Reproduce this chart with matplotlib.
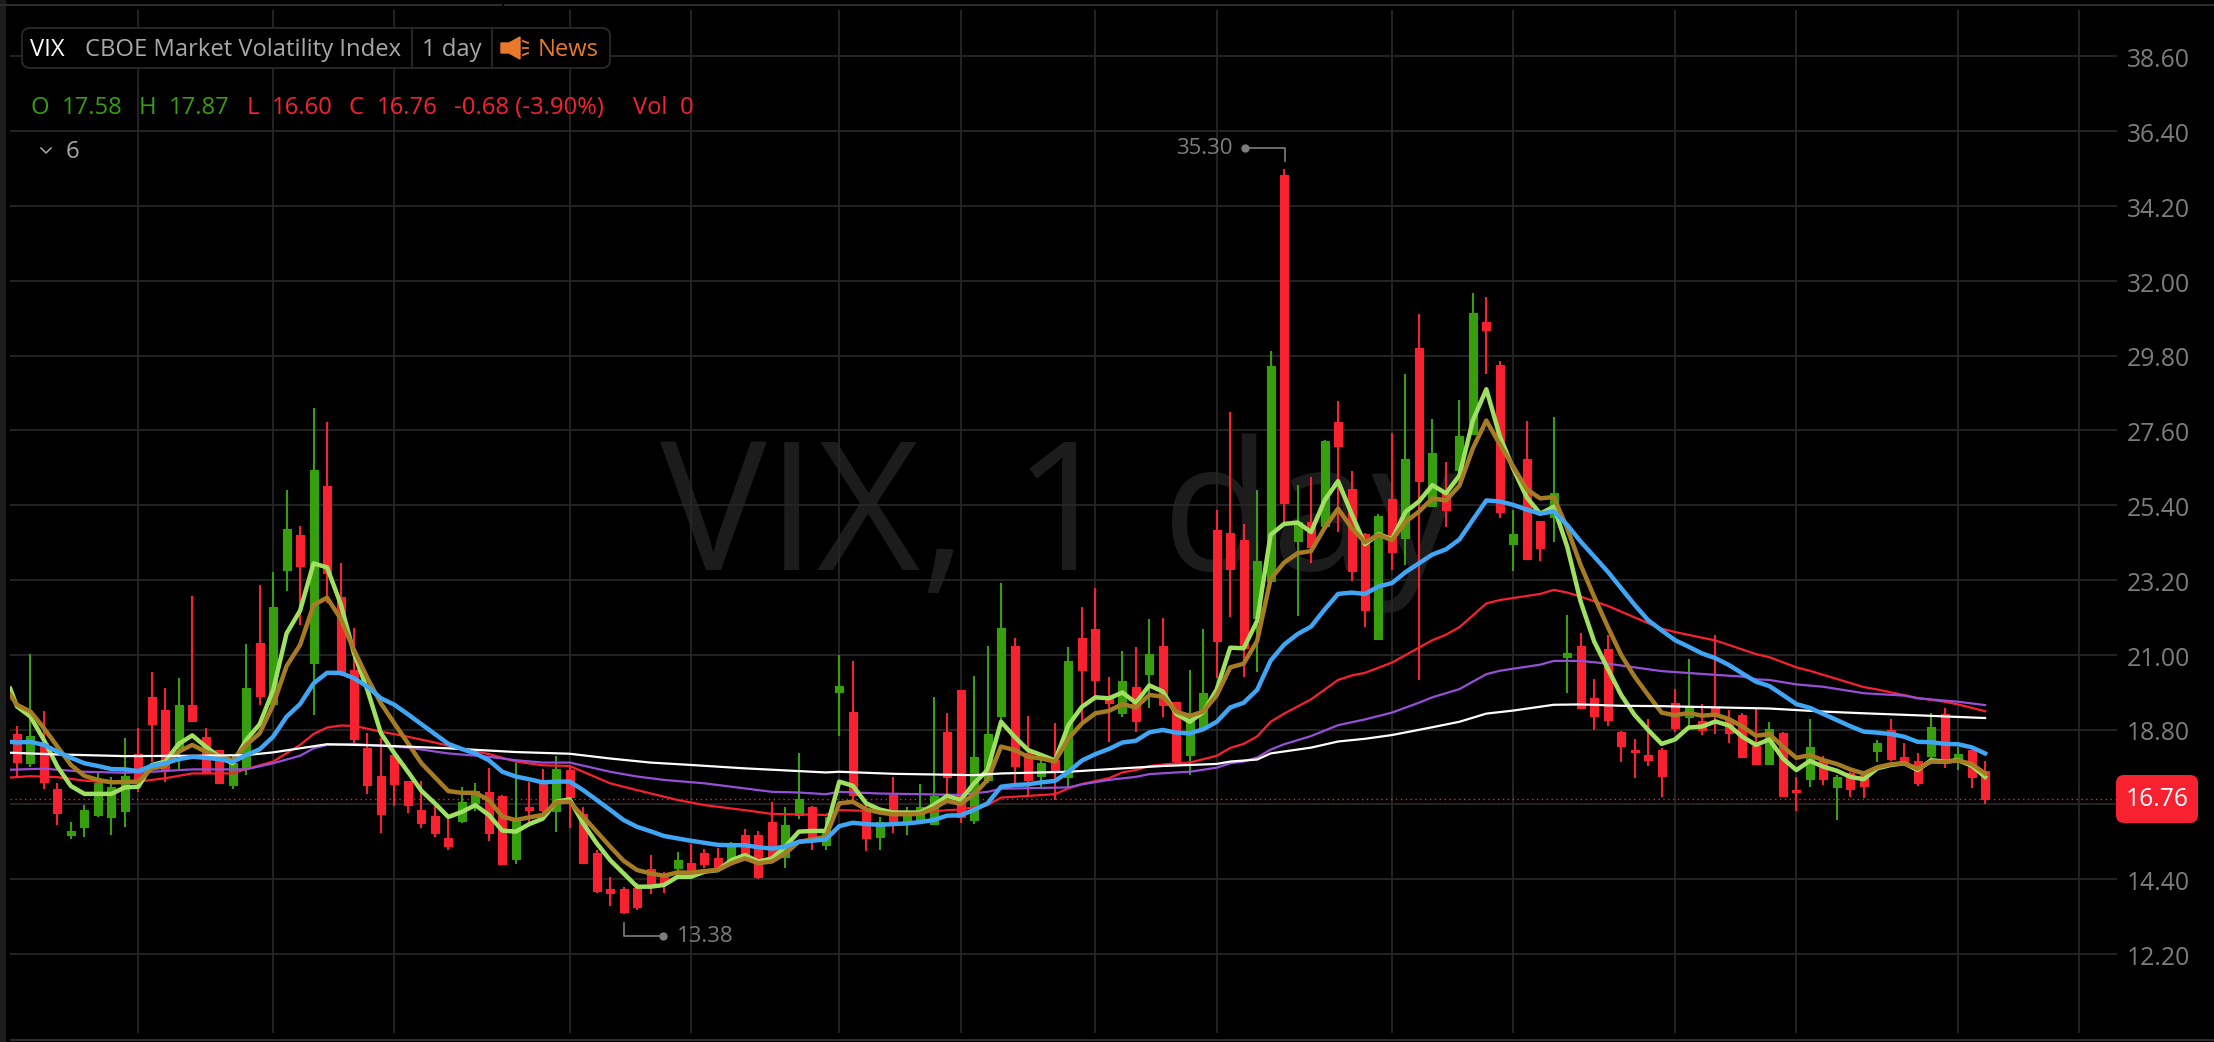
import matplotlib
matplotlib.use('Agg')
import matplotlib.pyplot as plt
from matplotlib.patches import FancyBboxPatch, Polygon
from matplotlib.transforms import ScaledTranslation

plt.rcParams['font.family'] = ['Open Sans', 'DejaVu Sans']

# Daily candles
opens = [18.67, 17.81, 18.40, 17.04, 15.71, 15.93, 16.30, 16.24, 16.40, 18.08,
         19.75, 19.38, 18.30, 19.53, 18.59, 18.20, 17.18, 17.66, 21.34, 19.55,
         23.49, 24.52, 20.75, 25.97, 22.69, 20.55, 18.27, 17.43, 18.06, 17.30,
         16.45, 16.25, 15.60, 16.12, 16.63, 16.96, 16.86, 14.98, 16.51, 17.26,
         16.42, 17.62, 16.32, 15.18, 14.10, 14.12, 14.13, 14.69, 14.47, 14.72,
         14.87, 15.16, 15.01, 14.92, 15.70, 15.70, 16.08, 15.06, 16.29, 16.53,
         15.41, 19.90, 19.32, 16.39, 15.65, 16.88, 16.09, 16.14, 16.01, 18.73,
         19.97, 16.14, 17.32, 19.21, 21.25, 18.10, 17.43, 17.90, 17.42, 21.49,
         21.75, 19.79, 19.30, 20.05, 20.43, 21.25, 19.61, 18.04, 18.89, 24.67,
         24.57, 24.39, 22.09, 23.17, 35.11, 24.34, 24.91, 24.80, 27.85, 25.87,
         24.55, 21.47, 25.59, 24.43, 30.02, 25.39, 25.75, 26.45, 27.49, 30.78,
         29.51, 24.26, 26.77, 24.93, 25.05, 20.95, 21.26, 19.72, 21.18, 18.74,
         18.19, 18.05, 18.19, 19.59, 19.16, 19.04, 19.44, 19.08, 19.23, 18.32,
         17.79, 18.70, 17.02, 17.35, 17.93, 17.11, 17.51, 17.46, 18.18, 18.78,
         18.00, 17.88, 18.03, 19.27, 17.95, 18.19, 17.58]
closes = [17.85, 18.61, 17.27, 16.34, 15.81, 16.43, 17.22, 17.12, 17.45, 17.22,
          18.96, 17.60, 19.51, 19.04, 17.56, 17.24, 17.81, 20.01, 19.80, 22.40,
          24.70, 23.62, 26.43, 23.40, 20.50, 18.52, 17.16, 16.33, 17.20, 16.57,
          16.04, 15.76, 15.39, 16.67, 17.00, 15.75, 14.84, 16.14, 16.45, 16.44,
          17.64, 16.83, 14.89, 14.04, 13.98, 13.45, 13.57, 14.18, 14.28, 14.96,
          14.62, 14.85, 14.72, 15.46, 15.14, 14.46, 15.08, 15.99, 16.76, 15.55,
          15.85, 20.09, 16.88, 15.62, 16.09, 16.11, 16.39, 16.53, 16.86, 17.42,
          16.24, 18.00, 18.66, 21.78, 17.73, 17.32, 17.81, 17.61, 20.83, 20.55,
          20.26, 19.59, 20.24, 19.05, 21.02, 19.51, 17.89, 19.28, 19.87, 21.40,
          23.52, 21.19, 23.76, 29.50, 25.46, 24.91, 24.17, 27.29, 27.14, 23.47,
          22.33, 25.09, 24.02, 26.77, 26.11, 26.95, 25.27, 27.43, 31.05, 30.56,
          25.21, 24.54, 23.83, 24.13, 25.77, 21.06, 19.43, 19.20, 19.08, 18.33,
          18.14, 17.92, 17.44, 18.84, 19.50, 18.79, 19.28, 18.69, 17.98, 17.79,
          18.82, 16.86, 16.97, 18.30, 17.35, 17.41, 17.04, 17.15, 18.40, 17.93,
          17.81, 17.23, 18.89, 17.90, 18.08, 17.41, 16.76]
highs = [18.91, 21.02, 19.36, 17.22, 16.08, 16.57, 17.57, 17.42, 18.55, 18.84,
         20.49, 20.03, 20.32, 22.73, 18.84, 18.20, 18.05, 21.32, 23.04, 23.44,
         25.85, 24.79, 28.27, 27.85, 23.69, 21.78, 18.71, 18.54, 18.10, 17.30,
         17.30, 16.63, 16.19, 17.10, 17.22, 17.68, 16.89, 17.81, 17.27, 17.63,
         18.02, 17.71, 16.53, 15.26, 14.47, 14.18, 14.28, 15.10, 14.62, 15.19,
         15.44, 15.29, 15.31, 15.50, 15.87, 15.83, 16.68, 16.51, 18.11, 16.55,
         16.24, 20.99, 20.82, 16.58, 16.22, 17.42, 16.53, 17.20, 19.75, 19.28,
         19.97, 20.38, 21.25, 23.11, 21.48, 19.21, 17.90, 18.98, 21.22, 22.41,
         22.96, 20.36, 21.12, 21.22, 22.05, 22.08, 19.62, 20.55, 21.75, 25.25,
         28.15, 24.86, 25.85, 29.93, 35.30, 26.00, 26.23, 27.31, 28.46, 26.41,
         24.57, 25.13, 27.53, 29.27, 31.03, 27.94, 26.68, 28.49, 31.63, 31.51,
         29.63, 25.27, 27.89, 24.93, 28.00, 22.17, 21.63, 20.28, 21.58, 18.77,
         18.51, 19.10, 18.25, 20.00, 20.87, 19.55, 21.58, 19.38, 19.28, 19.41,
         19.01, 18.73, 17.42, 19.10, 18.03, 17.46, 17.56, 17.51, 18.49, 19.11,
         18.41, 18.10, 19.28, 19.45, 18.30, 18.20, 17.87]
lows = [17.40, 17.69, 17.04, 15.98, 15.59, 15.63, 16.24, 15.70, 15.93, 16.97,
        17.86, 17.27, 17.61, 19.04, 17.56, 17.22, 17.06, 17.47, 19.52, 19.55,
        22.87, 21.88, 19.24, 22.51, 20.38, 18.42, 16.90, 15.75, 16.55, 16.34,
        15.90, 15.65, 15.25, 16.06, 16.42, 15.53, 14.82, 14.84, 16.09, 16.39,
        15.80, 15.90, 14.89, 14.00, 13.61, 13.38, 13.49, 13.96, 14.00, 14.47,
        14.47, 14.72, 14.62, 14.87, 15.11, 14.40, 15.04, 14.72, 16.18, 15.26,
        15.26, 18.61, 16.73, 15.24, 15.27, 15.77, 15.71, 16.14, 16.01, 16.83,
        16.04, 16.02, 17.22, 19.03, 17.22, 16.83, 17.10, 16.73, 17.12, 18.98,
        19.77, 18.44, 19.18, 18.72, 19.45, 19.18, 17.81, 17.46, 18.84, 20.33,
        22.12, 20.35, 20.49, 23.17, 24.85, 22.15, 23.71, 24.80, 24.61, 23.18,
        21.83, 21.43, 23.49, 23.64, 20.25, 25.39, 24.77, 26.45, 27.49, 29.27,
        25.03, 23.47, 23.83, 23.75, 24.31, 19.87, 19.41, 18.79, 18.92, 17.86,
        17.37, 17.73, 16.83, 18.74, 18.89, 18.64, 18.66, 18.41, 17.98, 17.75,
        17.79, 16.84, 16.40, 17.12, 17.16, 16.14, 16.81, 16.78, 17.86, 17.87,
        17.81, 17.15, 17.90, 17.66, 17.61, 17.08, 16.60]

# Fast averages, one reading per candle (the first one starts half a candle early)
ma_x = [-0.5] + list(range(147))
fast_green = [20.00,
              19.48, 19.18, 18.49, 17.71, 17.14, 16.91, 16.91, 16.91, 17.10, 17.12,
              17.76, 17.86, 18.38, 18.63, 18.30, 18.00, 17.81, 18.49, 18.96, 19.96,
              21.63, 22.30, 23.69, 23.57, 22.51, 21.04, 19.96, 18.69, 18.10, 17.56,
              17.00, 16.63, 16.23, 16.38, 16.58, 16.29, 15.83, 15.80, 16.02, 16.18,
              16.68, 16.75, 16.04, 15.46, 14.96, 14.57, 14.18, 14.18, 14.23, 14.47,
              14.47, 14.62, 14.67, 14.96, 15.11, 14.92, 15.01, 15.36, 15.80, 15.82,
              15.82, 17.27, 17.15, 16.63, 16.45, 16.36, 16.36, 16.36, 16.58, 16.85,
              16.73, 17.22, 17.61, 19.03, 18.59, 18.20, 18.05, 17.89, 18.93, 19.47,
              19.75, 19.72, 19.89, 19.59, 20.10, 19.92, 19.26, 19.03, 19.31, 19.98,
              21.21, 21.19, 22.00, 24.53, 24.85, 24.89, 24.61, 25.54, 26.11, 25.15,
              24.25, 24.55, 24.40, 25.20, 25.51, 25.99, 25.75, 26.27, 27.89, 28.81,
              27.43, 26.47, 25.63, 25.15, 25.36, 24.18, 22.56, 21.39, 20.60, 19.82,
              19.23, 18.79, 18.38, 18.51, 18.86, 18.89, 19.04, 18.92, 18.59, 18.35,
              18.51, 17.95, 17.61, 17.88, 17.71, 17.59, 17.41, 17.34, 17.66, 17.76,
              17.81, 17.61, 17.90, 17.86, 17.90, 17.74, 17.41]
fast_brown = [19.82,
              19.53, 19.33, 18.84, 18.30, 17.76, 17.44, 17.32, 17.25, 17.26, 17.27,
              17.66, 17.73, 18.15, 18.35, 18.15, 18.00, 17.90, 18.35, 18.69, 19.53,
              20.67, 21.29, 22.46, 22.68, 22.07, 21.14, 20.31, 19.57, 18.98, 18.40,
              17.81, 17.40, 16.99, 16.94, 16.94, 16.73, 16.24, 16.14, 16.22, 16.29,
              16.66, 16.68, 16.24, 15.80, 15.36, 14.94, 14.67, 14.57, 14.50, 14.60,
              14.59, 14.64, 14.67, 14.87, 15.01, 14.87, 14.92, 15.16, 15.50, 15.57,
              15.65, 16.63, 16.68, 16.45, 16.36, 16.31, 16.31, 16.32, 16.48, 16.71,
              16.61, 16.90, 17.32, 18.30, 18.20, 18.00, 17.95, 17.86, 18.54, 18.98,
              19.28, 19.35, 19.55, 19.45, 19.82, 19.77, 19.33, 19.20, 19.33, 19.81,
              20.63, 20.74, 21.41, 23.23, 23.71, 23.99, 24.05, 24.73, 25.30, 24.73,
              24.31, 24.53, 24.37, 24.91, 25.21, 25.60, 25.54, 25.97, 27.07, 27.89,
              27.19, 26.53, 25.87, 25.60, 25.64, 24.72, 23.64, 22.71, 21.83, 21.00,
              20.36, 19.82, 19.30, 19.22, 19.29, 19.21, 19.24, 19.11, 18.89, 18.62,
              18.67, 18.30, 17.97, 18.05, 17.90, 17.79, 17.63, 17.51, 17.69, 17.78,
              17.81, 17.65, 17.86, 17.85, 17.89, 17.79, 17.51]
mid_blue = [18.44,
            18.42, 18.44, 18.35, 18.15, 17.97, 17.81, 17.73, 17.64, 17.63, 17.58,
            17.74, 17.81, 17.93, 18.00, 17.97, 17.93, 17.85, 18.05, 18.22, 18.59,
            19.18, 19.55, 20.16, 20.47, 20.47, 20.31, 20.06, 19.72, 19.53, 19.25,
            18.96, 18.67, 18.38, 18.23, 18.10, 17.90, 17.56, 17.42, 17.34, 17.25,
            17.27, 17.27, 17.02, 16.73, 16.44, 16.14, 15.94, 15.81, 15.67, 15.60,
            15.53, 15.47, 15.41, 15.40, 15.40, 15.34, 15.30, 15.36, 15.50, 15.53,
            15.57, 15.96, 16.06, 16.02, 16.00, 16.02, 16.04, 16.08, 16.14, 16.27,
            16.28, 16.44, 16.63, 17.12, 17.17, 17.19, 17.25, 17.29, 17.56, 17.89,
            18.08, 18.23, 18.42, 18.47, 18.72, 18.79, 18.71, 18.69, 18.81, 19.03,
            19.45, 19.59, 19.97, 20.83, 21.30, 21.61, 21.83, 22.33, 22.79, 22.83,
            22.79, 23.01, 23.11, 23.43, 23.69, 23.95, 24.10, 24.39, 24.97, 25.54,
            25.51, 25.41, 25.27, 25.15, 25.22, 24.82, 24.33, 23.89, 23.45, 22.96,
            22.47, 22.02, 21.72, 21.43, 21.24, 21.04, 20.90, 20.70, 20.45, 20.21,
            20.08, 19.82, 19.55, 19.44, 19.26, 19.08, 18.90, 18.74, 18.71, 18.67,
            18.59, 18.44, 18.43, 18.38, 18.37, 18.28, 18.10]

# Slow averages bend so little that a reading at each bend is enough
slow_red_x = [-0.5, 1, 3, 5, 7, 9, 11, 13, 16, 17, 19, 21, 22, 23, 24, 25, 27, 29, 31, 33, 35, 37, 39, 41, 42, 44, 46,
              49, 51, 54, 56, 60, 61, 65, 67, 69, 70, 72, 73, 77, 78, 79, 81, 82, 83, 84, 86, 87, 89, 90, 91, 92, 93,
              94, 95, 96, 98, 99, 100, 102, 104, 105, 106, 107, 109, 110, 112, 113, 114, 115, 116, 118, 120, 121, 122,
              123, 126, 127, 129, 130, 132, 133, 137, 138, 141, 143, 144, 146]
slow_red = [17.39, 17.43, 17.40, 17.30, 17.24, 17.27, 17.37, 17.51, 17.51, 17.64, 17.86, 18.35, 18.67, 18.86, 18.92,
            18.91, 18.74, 18.59, 18.42, 18.23, 18.08, 17.86, 17.75, 17.73, 17.56, 17.22, 17.02, 16.73, 16.58, 16.43,
            16.32, 16.29, 16.43, 16.39, 16.36, 16.43, 16.45, 16.58, 16.80, 16.90, 17.07, 17.20, 17.37, 17.54, 17.61,
            17.73, 17.81, 17.83, 18.03, 18.26, 18.38, 18.60, 19.03, 19.27, 19.48, 19.69, 20.26, 20.39, 20.47, 20.77,
            21.21, 21.43, 21.59, 21.81, 22.51, 22.61, 22.73, 22.79, 22.91, 22.83, 22.71, 22.44, 22.10, 21.93, 21.77,
            21.67, 21.42, 21.29, 21.02, 20.93, 20.63, 20.53, 20.05, 19.98, 19.73, 19.62, 19.54, 19.34]
slow_purple_x = [-0.5, 2, 5, 8, 10, 13, 17, 19, 21, 22, 23, 25, 29, 32, 35, 37, 39, 41, 44, 46, 48, 51, 54, 56, 58, 60,
                 61, 64, 67, 70, 72, 73, 78, 79, 81, 83, 84, 86, 87, 89, 90, 91, 92, 93, 94, 96, 98, 100, 102, 104, 105,
                 107, 109, 110, 113, 114, 116, 118, 122, 126, 128, 129, 130, 132, 134, 137, 140, 141, 144, 146]
slow_purple = [17.62, 17.65, 17.56, 17.53, 17.56, 17.63, 17.63, 17.81, 18.03, 18.25, 18.35, 18.38, 18.27, 18.10, 18.00,
               17.90, 17.83, 17.83, 17.56, 17.42, 17.32, 17.22, 17.07, 16.97, 16.95, 16.90, 16.97, 16.92, 16.90, 16.88,
               16.97, 17.06, 17.10, 17.19, 17.32, 17.41, 17.49, 17.54, 17.56, 17.68, 17.81, 17.86, 17.98, 18.21, 18.37,
               18.61, 18.93, 19.10, 19.30, 19.59, 19.75, 19.99, 20.43, 20.53, 20.71, 20.82, 20.82, 20.74, 20.52, 20.41,
               20.36, 20.28, 20.26, 20.13, 20.06, 19.87, 19.80, 19.72, 19.62, 19.52]
slow_white_x = [-0.5, 3, 8, 13, 17, 19, 21, 23, 27, 32, 37, 41, 44, 47, 50, 54, 58, 60, 61, 65, 71, 73, 78, 82, 85, 89,
                90, 92, 93, 96, 98, 100, 102, 105, 107, 109, 111, 114, 116, 119, 122, 130, 134, 137, 141, 146]
slow_white = [18.12, 18.07, 18.02, 18.03, 18.05, 18.13, 18.25, 18.37, 18.33, 18.25, 18.14, 18.09, 17.95, 17.83, 17.76,
              17.66, 17.58, 17.54, 17.56, 17.50, 17.46, 17.51, 17.56, 17.66, 17.73, 17.79, 17.86, 17.92, 18.10, 18.27,
              18.45, 18.53, 18.64, 18.87, 19.03, 19.27, 19.36, 19.53, 19.54, 19.50, 19.49, 19.42, 19.33, 19.28, 19.22,
              19.14]

# Axis ticks and header values
y_ticks = [12.2, 14.4, 16.6, 18.8, 21.0, 23.2, 25.4, 27.6, 29.8, 32.0, 34.2, 36.4, 38.6]
y_tick_labels = ['12.20', '14.40', '', '18.80', '21.00', '23.20', '25.40', '27.60', '29.80', '32.00', '34.20', '36.40', '38.60']
date_ticks = [9, 19, 28, 41, 50, 61, 70, 80, 89, 102, 111, 123, 132, 144, 153]
last_price = 16.76

UP = '#379e0e'
DOWN = '#f7212f'
GRID = '#262626'
LABEL = '#7d7d7d'
ORANGE = '#e8792b'

W, H = 2214, 1042
fig = plt.figure(figsize=(W / 100, H / 100), dpi=100, facecolor='black')

# overlay in screen pixels for the header and labels
overlay = fig.add_axes([0, 0, 1, 1], zorder=5)
overlay.set_xlim(0, W)
overlay.set_ylim(H, 0)
overlay.axis('off')

left, right, top, bottom = 10, 2117, 10, 1033
ax = fig.add_axes([left / W, 1 - bottom / H, (right - left) / W, (bottom - top) / H], zorder=1)
ax.set_facecolor('black')
ax.set_xlim((left - 17) / 13.48, (right - 17) / 13.48)
ax.set_ylim(12.2 + (954 - bottom) / 34, 12.2 + (954 - top) / 34)
for s in ax.spines.values():
    s.set_visible(False)
ax.set_xticks(date_ticks)
ax.set_xticklabels([])
ax.set_yticks(y_ticks)
ax.set_yticklabels(y_tick_labels, color=LABEL, fontsize=17.8)
ax.yaxis.tick_right()
ax.tick_params(length=0, pad=7)
ax.grid(True, color=GRID, linewidth=1.3)
ax.set_axisbelow(True)

# tick labels sit a little under their grid lines
label_shift = ScaledTranslation(0, -1 / 72, fig.dpi_scale_trans)
for label in ax.get_yticklabels():
    label.set_transform(label.get_transform() + label_shift)

# watermark
ax.text(1060, 523, 'VIX, 1 day', transform=overlay.transData, color='#1c1c1c', fontsize=129,
        ha='center', va='center', zorder=0.5, clip_on=False)

# last price line
ax.axhline(last_price, color=DOWN, linewidth=1, linestyle=(0, (1, 2.5)), zorder=1)

# candles
for i in range(len(opens)):
    color = UP if closes[i] > opens[i] else DOWN
    ax.vlines(i, lows[i], highs[i], color=color, linewidth=1.5, zorder=2)
    ax.bar(i, abs(closes[i] - opens[i]), bottom=min(opens[i], closes[i]), width=8 / 13.48, color=color,
           edgecolor=color, linewidth=0.8, joinstyle='round', zorder=2)

# moving averages
ax.plot(slow_red_x, slow_red, color=DOWN, linewidth=1.6, zorder=3)
ax.plot(slow_purple_x, slow_purple, color='#9650d8', linewidth=1.6, zorder=3)
ax.plot(ma_x, fast_green, color='#9fe060', linewidth=3.2, zorder=4)
ax.plot(ma_x, fast_brown, color='#a67c22', linewidth=3.2, zorder=5)
ax.plot(slow_white_x, slow_white, color='white', linewidth=1.6, zorder=6)
ax.plot(ma_x, mid_blue, color='#3fa5f5', linewidth=3.2, zorder=6)

# high / low markers
overlay.plot([1245, 1285, 1285], [148, 148, 161], color=LABEL, linewidth=1.2)
overlay.plot([1245], [148], 'o', color=LABEL, markersize=5)
overlay.text(1233, 149, '35.30', color=LABEL, fontsize=16, ha='right', va='center')
overlay.plot([623.5, 623.5, 663], [923, 936, 936], color=LABEL, linewidth=1.2)
overlay.plot([663], [936], 'o', color=LABEL, markersize=5)
overlay.text(676.5, 937, '13.38', color=LABEL, fontsize=16, ha='left', va='center')

# price tag
overlay.add_patch(FancyBboxPatch((2116, 775), 82, 48, boxstyle='round,pad=0,rounding_size=8',
                                 facecolor=DOWN, edgecolor='none'))
overlay.text(2157, 800, '16.76', color='white', fontsize=17.8, ha='center', va='center')

# header box
overlay.add_patch(FancyBboxPatch((22, 28), 588, 40, boxstyle='round,pad=0,rounding_size=8', facecolor='black',
                                 edgecolor='#2a2a2a', linewidth=1.3))
overlay.plot([412, 412], [28, 68], color='#2a2a2a', linewidth=1.3)
overlay.plot([492, 492], [28, 68], color='#2a2a2a', linewidth=1.3)
overlay.text(30, 50, 'VIX', color='white', fontsize=17.1, va='center')
overlay.text(85, 50, 'CBOE Market Volatility Index', color='#a8a8a8', fontsize=17.1, va='center')
overlay.text(422, 50, '1 day', color='#a8a8a8', fontsize=17.1, va='center')
overlay.add_patch(Polygon([(501, 43), (509, 43), (520, 37), (520, 59), (509, 53), (501, 53)], facecolor=ORANGE,
                          edgecolor=ORANGE, linewidth=1))
for y0, y1 in [(41, 43), (48, 48), (55, 53)]:
    overlay.plot([523, 528], [y0, y1], color=ORANGE, linewidth=1.3)
overlay.text(538, 50, 'News', color=ORANGE, fontsize=17.1, va='center')

# OHLC line
header_items = [('O', 31, UP), ('17.58', 62, UP), ('H', 139, UP), ('17.87', 169, UP), ('L', 247, DOWN),
                ('16.60', 272, DOWN), ('C', 349, DOWN), ('16.76', 376.5, DOWN), ('-0.68 (-3.90%)', 454.5, DOWN),
                ('Vol', 632.7, DOWN), ('0', 679.5, DOWN)]
for label, x, color in header_items:
    overlay.text(x, 108.5, label, color=color, fontsize=17.1, va='center')

overlay.plot([41, 46, 51], [148, 153, 148], color='#a8a8a8', linewidth=1.1)
overlay.text(66, 152, '6', color='#a8a8a8', fontsize=17.1, va='center')

# frame strips round the chart
frame = '#1c1c1c'
overlay.fill_between([0, 6], 0, H, color=frame, linewidth=0)
overlay.fill_between([0, 502], 4, 6, color='#2c2c2c', linewidth=0)
overlay.fill_between([504, W], 4, 6, color='#2c2c2c', linewidth=0)
overlay.fill_between([10, W], 1039, 1041, color='#2c2c2c', linewidth=0)

fig.savefig('out.png', dpi=100, facecolor='black')
